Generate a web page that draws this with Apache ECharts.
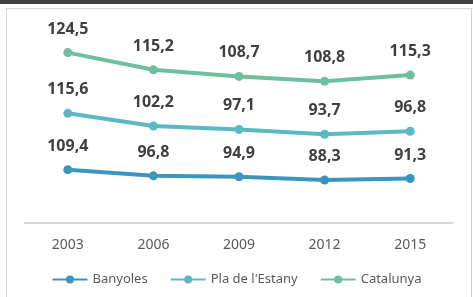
<!DOCTYPE html>
<html>
<head>
<meta charset="utf-8">
<script src="https://cdn.jsdelivr.net/npm/echarts@6/dist/echarts.min.js"></script>
<style>
  html, body { margin: 0; padding: 0; background: #fff; }
  #topbar { position: absolute; left: 0; top: 0; width: 473px; height: 4px; background: #404040; }
  #frame { position: absolute; left: 6px; top: 8px; width: 464px; height: 300px; border: 1px solid #d9d9d9; border-right: 3px double #d0d0d0; }
  #chart { position: absolute; left: 0; top: 0; width: 473px; height: 297px; }
</style>
</head>
<body>
<div id="topbar"></div>
<div id="frame"></div>
<div id="chart"></div>
<script>
var years = ['2003', '2006', '2009', '2012', '2015'];
var banyoles = [109.4, 96.8, 94.9, 88.3, 91.3];
var plaEstany = [115.6, 102.2, 97.1, 93.7, 96.8];
var catalunya = [124.5, 115.2, 108.7, 108.8, 115.3];

var chart = echarts.init(document.getElementById('chart'));

function makeSeries(name, data, color) {
  return {
    name: name,
    type: 'line',
    stack: 'total',
    data: data,
    symbol: 'circle',
    symbolSize: 9,
    lineStyle: { width: 4, color: color },
    itemStyle: { color: color },
    label: {
      show: true,
      position: 'top',
      distance: 11,
      fontFamily: 'Noto Sans',
      fontSize: 16,
      fontWeight: 'bold',
      color: '#404040',
      formatter: function (p) { return p.value.toFixed(1).replace('.', ','); }
    },
    emphasis: { disabled: true }
  };
}

var option = {
  animation: false,
  grid: { left: 25, right: 20, top: 28, bottom: 74 },
  legend: {
    bottom: 6,
    left: 'center',
    itemWidth: 35,
    itemHeight: 10,
    itemGap: 22,
    textStyle: { fontFamily: 'Noto Sans', fontSize: 13, color: '#595959' },
    data: ['Banyoles', "Pla de l'Estany", 'Catalunya']
  },
  xAxis: {
    type: 'category',
    data: years,
    boundaryGap: true,
    axisLine: { lineStyle: { color: '#d9d9d9', width: 2 } },
    axisTick: { show: false },
    axisLabel: { fontFamily: 'Noto Sans', fontSize: 14, color: '#595959', margin: 15 }
  },
  yAxis: {
    type: 'value',
    min: 0,
    max: 400,
    show: false,
    splitLine: { show: false }
  },
  series: [
    makeSeries('Banyoles', banyoles, '#3a96bd'),
    makeSeries("Pla de l'Estany", plaEstany, '#5bb8c4'),
    makeSeries('Catalunya', catalunya, '#6dbfa0')
  ]
};
chart.setOption(option);
</script>
</body>
</html>
